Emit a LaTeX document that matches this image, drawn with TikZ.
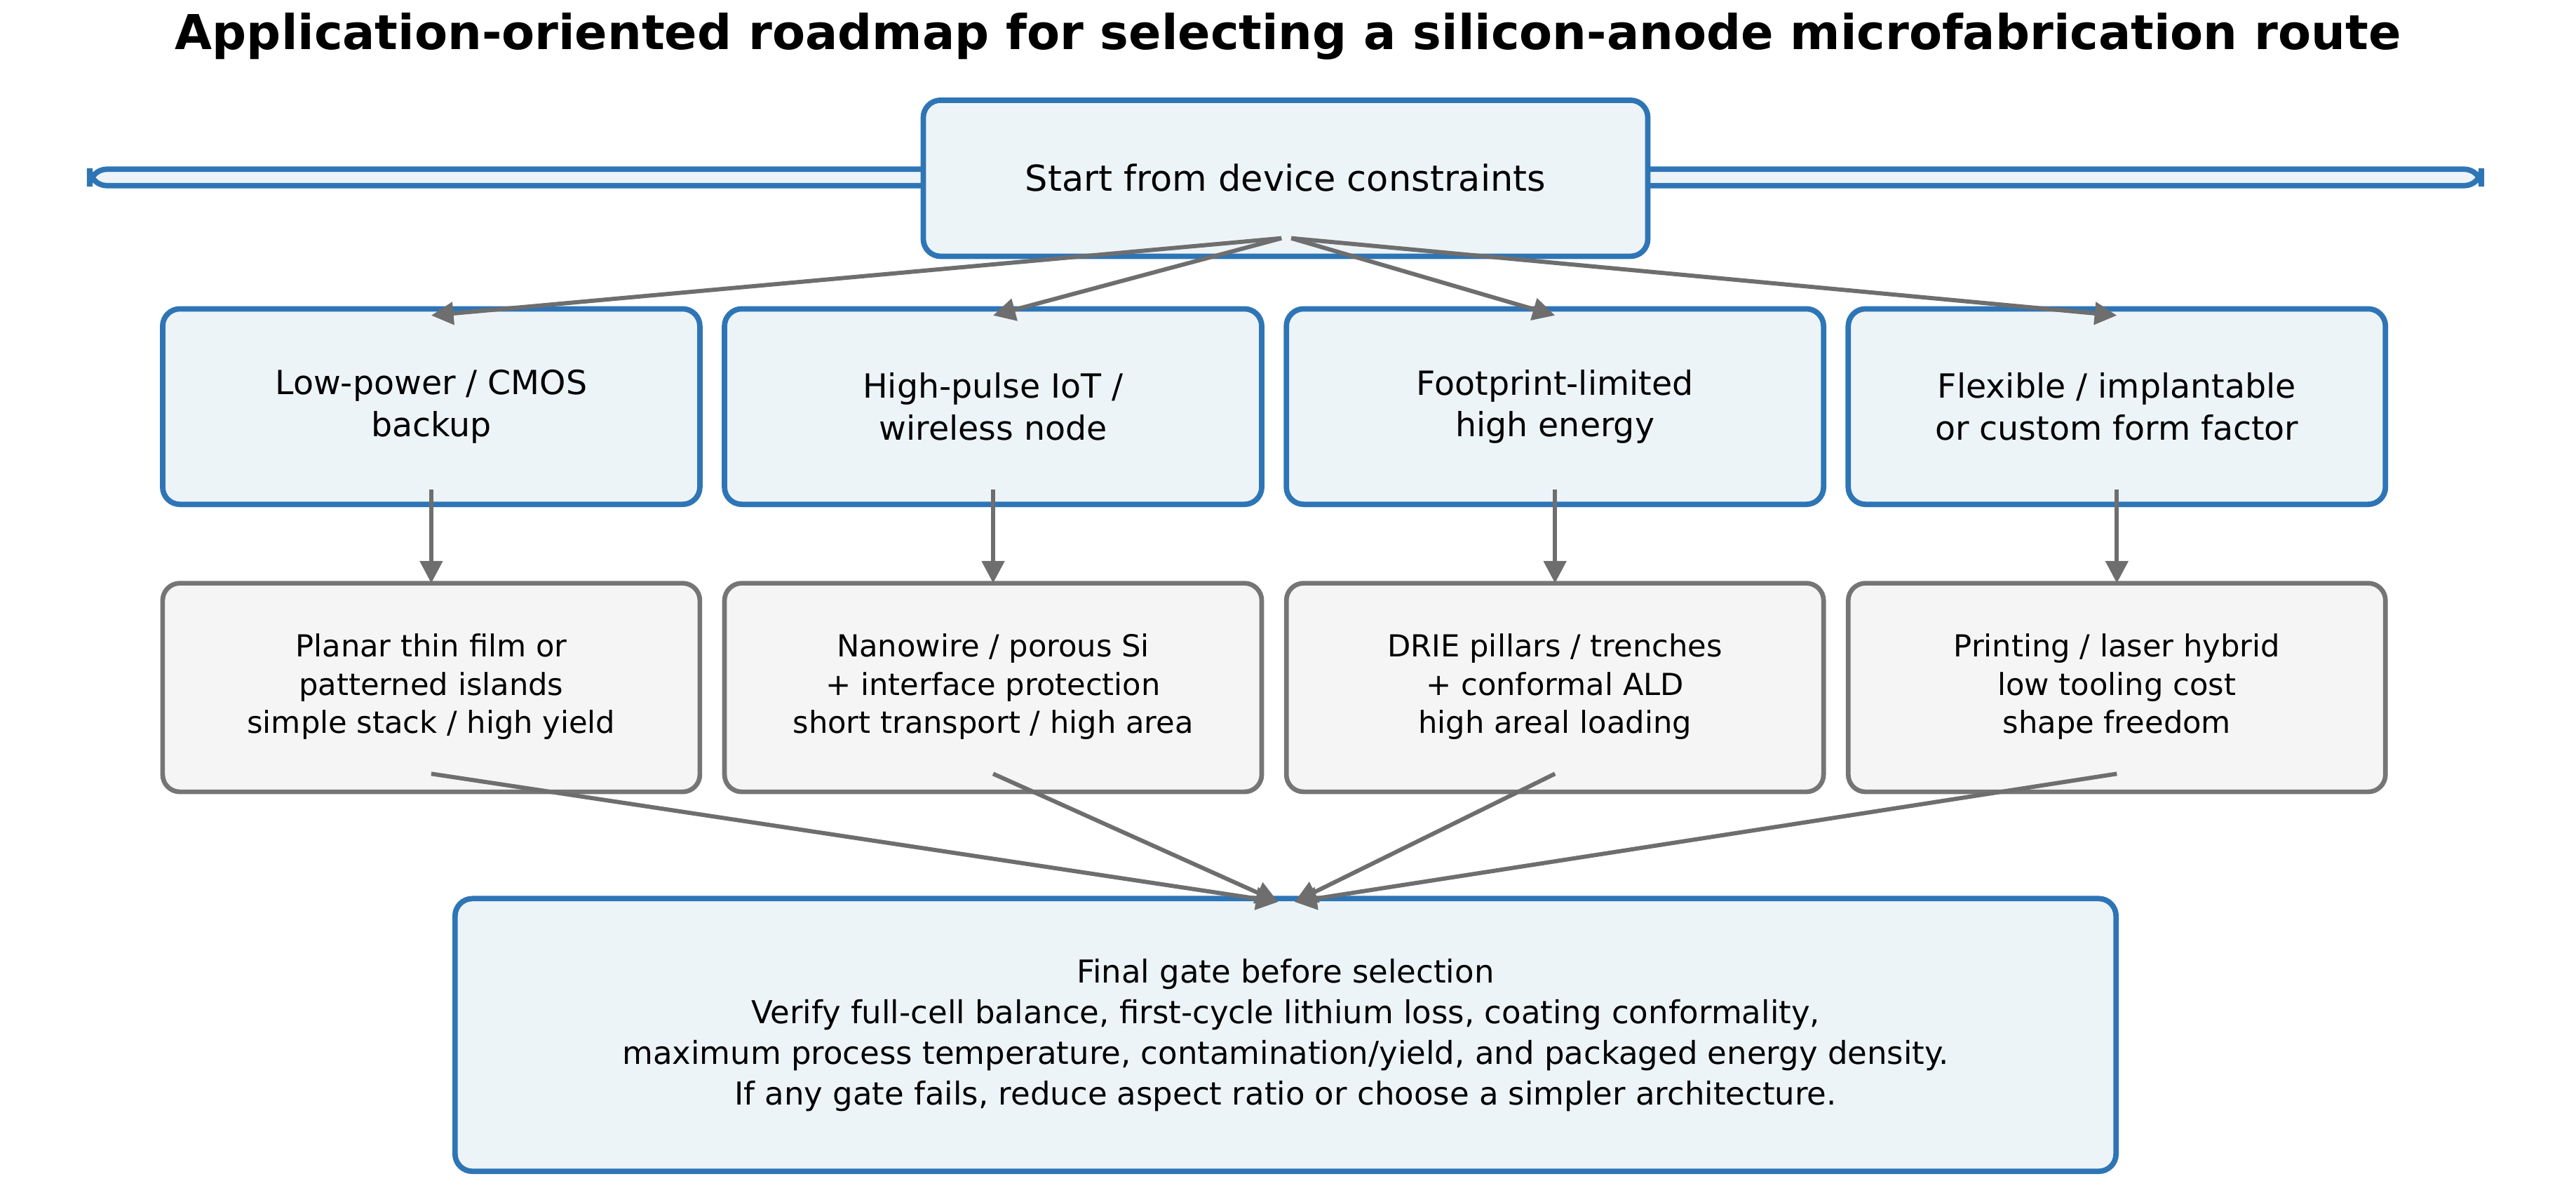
\documentclass[tikz,border=0pt]{standalone}
\usepackage{fontspec}
\setmainfont{DejaVu Sans}
\usetikzlibrary{arrows.meta,calc}
\definecolor{bblue}{HTML}{2E75B6}
\definecolor{bfill}{HTML}{EDF4F8}
\definecolor{gbord}{HTML}{757575}
\definecolor{gfill}{HTML}{F5F5F5}
\definecolor{arr}{HTML}{6E6E6E}
\begin{document}
\begin{tikzpicture}[x=0.02342cm,y=-0.02342cm,
 blue/.style={draw=bblue,fill=bfill,line width=2.2pt,rounded corners=7pt,align=center,font=\fontsize{13.5}{17}\selectfont},
 gray/.style={draw=gbord,fill=gfill,line width=1.9pt,rounded corners=7pt,align=center,font=\fontsize{12.3}{15.5}\selectfont},
 con/.style={draw=arr,line width=1.7pt,-{Triangle[length=9pt,width=9pt]}}]
\useasboundingbox (0,0) rectangle (1568,723);
\node[font=\bfseries\fontsize{19.5}{23}\selectfont] (title) at (784,22) {Application-oriented roadmap for selecting a silicon-anode microfabrication route};
\node[blue,minimum width=441\pgflinewidth] (s) at (782.5,108) {};
\draw[draw=bblue,fill=bfill,line width=2.2pt,rounded corners=7pt] (562,61) rectangle (1003,156);
\node[font=\fontsize{14.5}{17}\selectfont] (st) at (782.5,108) {Start from device constraints};
\foreach \i/\x/\t/\u in {1/99/{Low-power / CMOS\\backup}/{Planar thin film or\\patterned islands\\simple stack / high yield},
 2/441/{High-pulse IoT /\\wireless node}/{Nanowire / porous Si\\+ interface protection\\short transport / high area},
 3/783/{Footprint-limited\\high energy}/{DRIE pillars / trenches\\+ conformal ALD\\high areal loading},
 4/1125/{Flexible / implantable\\or custom form factor}/{Printing / laser hybrid\\low tooling cost\\shape freedom}}{
 \draw[draw=bblue,fill=bfill,line width=2.2pt,rounded corners=7pt] (\x,188) rectangle ++(327,119);
 \node[align=center,font=\fontsize{13.5}{17}\selectfont] (a\i) at (\x+163.5,247.5) {\t};
 \draw[draw=gbord,fill=gfill,line width=1.9pt,rounded corners=7pt] (\x,355) rectangle ++(327,127);
 \node[align=center,font=\fontsize{12.3}{15.5}\selectfont] (b\i) at (\x+163.5,418) {\u};
 \coordinate (at\i) at (\x+163.5,192);
 \coordinate (ab\i) at (\x+163.5,298);
 \coordinate (bt\i) at (\x+163.5,355);
 \coordinate (bb\i) at (\x+163.5,471);
}
\draw[draw=bblue,fill=bfill,line width=2.2pt,rounded corners=7pt] (277,547) rectangle (1288,713);
\node[align=center,font=\fontsize{12.8}{16.5}\selectfont] (f) at (782.5,630) {Final gate before selection\\Verify full-cell balance, first-cycle lithium loss, coating conformality,\\maximum process temperature, contamination/yield, and packaged energy density.\\If any gate fails, reduce aspect ratio or choose a simpler architecture.};
\coordinate (sl) at (780,145);
\coordinate (sr) at (786,145);
\coordinate (fl) at (778,549);
\coordinate (fr) at (788,549);
\draw[con] (sl) -- (at1);
\draw[con] (sl) -- (at2);
\draw[con] (sr) -- (at3);
\draw[con] (sr) -- (at4);
\foreach \i in {1,...,4}{\draw[con] (ab\i) -- (bt\i);}
\draw[con] (bb1) -- (fl);
\draw[con] (bb2) -- (fl);
\draw[con] (bb3) -- (fr);
\draw[con] (bb4) -- (fr);
\end{tikzpicture}
\end{document}
